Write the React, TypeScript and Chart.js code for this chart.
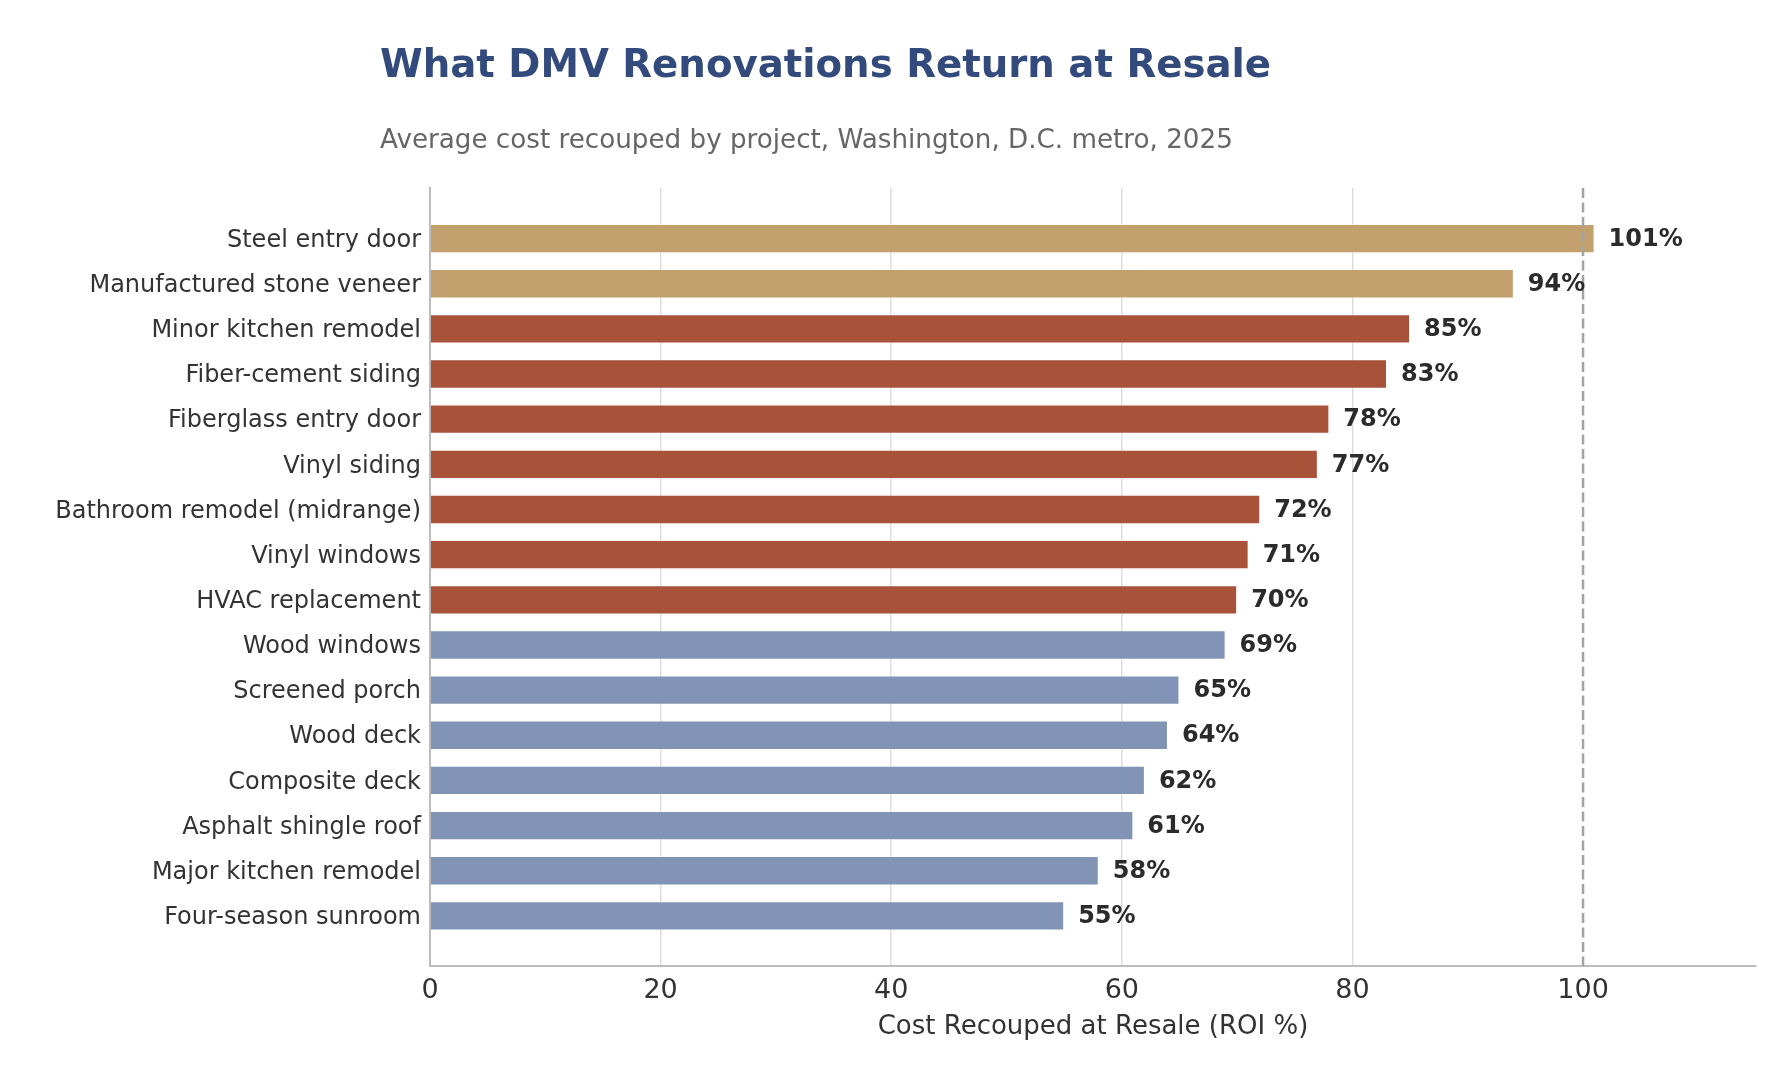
import React from "react";
import { Chart, ChartConfiguration, Plugin, registerables } from "chart.js";

Chart.register(...registerables);

const categories = [
  "Steel entry door",
  "Manufactured stone veneer",
  "Minor kitchen remodel",
  "Fiber-cement siding",
  "Fiberglass entry door",
  "Vinyl siding",
  "Bathroom remodel (midrange)",
  "Vinyl windows",
  "HVAC replacement",
  "Wood windows",
  "Screened porch",
  "Wood deck",
  "Composite deck",
  "Asphalt shingle roof",
  "Major kitchen remodel",
  "Four-season sunroom",
];

const roiValues = [101, 94, 85, 83, 78, 77, 72, 71, 70, 69, 65, 64, 62, 61, 58, 55];

const xTicks = [0, 20, 40, 60, 80, 100];
const breakEven = 100;

const TITLE = "What DMV Renovations Return at Resale";
const SUBTITLE = "Average cost recouped by project, Washington, D.C. metro, 2025";
const X_LABEL = "Cost Recouped at Resale (ROI %)";

const FONT = "'DejaVu Sans', sans-serif";
const TAN = "#C2A16E";
const RUST = "#A9523A";
const STEEL = "#8194B5";

const barColor = (v: number) => (v >= 90 ? TAN : v >= 70 ? RUST : STEEL);

const W = 1786;
const H = 1072;
const Y_MIN = -1.12;
const Y_MAX = 16.11;

const headerPlugin: Plugin<"bar"> = {
  id: "header",
  afterDraw(chart) {
    const { ctx } = chart;
    ctx.save();
    ctx.textAlign = "left";
    ctx.textBaseline = "alphabetic";
    ctx.fillStyle = "#334B7C";
    ctx.font = `bold 38.7px ${FONT}`;
    ctx.fillText(TITLE, 380, 77);
    ctx.fillStyle = "#666666";
    ctx.font = `26.2px ${FONT}`;
    ctx.fillText(SUBTITLE, 380, 148);
    ctx.restore();
  },
};

const refLinePlugin: Plugin<"bar"> = {
  id: "refLine",
  afterDatasetsDraw(chart) {
    const { ctx, chartArea, scales } = chart;
    const x = scales.x.getPixelForValue(breakEven);
    ctx.save();
    ctx.strokeStyle = "#a3a3a3";
    ctx.lineWidth = 2.5;
    ctx.setLineDash([10, 4.5]);
    ctx.beginPath();
    ctx.moveTo(x, chartArea.top);
    ctx.lineTo(x, chartArea.bottom);
    ctx.stroke();
    ctx.restore();
  },
};

const valueLabelPlugin: Plugin<"bar"> = {
  id: "valueLabels",
  afterDatasetsDraw(chart) {
    const { ctx } = chart;
    const meta = chart.getDatasetMeta(0);
    ctx.save();
    ctx.font = `bold 24px ${FONT}`;
    ctx.fillStyle = "#2b2b2b";
    ctx.textAlign = "left";
    ctx.textBaseline = "middle";
    meta.data.forEach((bar, i) => {
      const { x, y } = bar.getProps(["x", "y"], true);
      ctx.fillText(`${roiValues[i]}%`, x + 14, y + 1);
    });
    ctx.restore();
  },
};

export default function App() {
  const canvasRef = React.useRef<HTMLCanvasElement | null>(null);
  const chartRef = React.useRef<Chart<"bar"> | null>(null);

  React.useEffect(() => {
    const canvas = canvasRef.current;
    if (!canvas) return;
    chartRef.current?.destroy();

    const config: ChartConfiguration<"bar"> = {
      type: "bar",
      data: {
        datasets: [
          {
            data: roiValues.map((v, i) => ({ x: v, y: i })) as any,
            backgroundColor: roiValues.map(barColor),
            borderColor: "rgba(255,255,255,0.35)",
            borderWidth: 1,
            categoryPercentage: 1,
            barPercentage: 0.65,
          },
        ],
      },
      options: {
        indexAxis: "y",
        animation: false,
        responsive: false,
        devicePixelRatio: 1,
        layout: { padding: { top: 188, right: 30, bottom: 0, left: 0 } },
        plugins: {
          legend: { display: false },
          tooltip: { enabled: false },
          title: { display: false },
        },
        scales: {
          x: {
            type: "linear",
            position: "bottom",
            min: 0,
            max: 115,
            offset: false,
            afterBuildTicks: (s) => {
              s.ticks = xTicks.map((v) => ({ value: v }));
              s.min = 0;
              s.max = 115;
            },
            afterFit: (s) => {
              s.height = 106;
            },
            grid: {
              color: (c) => (c.tick && c.tick.value === breakEven ? "rgba(0,0,0,0)" : "#dddddd"),
              lineWidth: 1.5,
              drawTicks: false,
              offset: false,
            },
            border: { display: true, color: "#bdbdbd", width: 2 },
            ticks: {
              padding: 9,
              color: "#333333",
              font: { family: FONT, size: 27 },
              callback: (v) => String(v),
            },
            title: {
              display: true,
              text: X_LABEL,
              color: "#333333",
              font: { family: FONT, size: 26 },
              padding: { top: 0, bottom: 29 },
            },
          },
          y: {
            type: "linear",
            position: "left",
            reverse: true,
            offset: false,
            bounds: "data",
            min: Y_MIN,
            max: Y_MAX,
            afterBuildTicks: (s) => {
              s.ticks = categories.map((_, i) => ({ value: i }));
              s.min = Y_MIN;
              s.max = Y_MAX;
            },
            afterFit: (s) => {
              s.width = 430;
            },
            grid: { display: false, drawTicks: false, offset: false },
            border: { display: true, color: "#bdbdbd", width: 2 },
            ticks: {
              autoSkip: false,
              padding: 9,
              labelOffset: 2,
              color: "#333333",
              font: { family: FONT, size: 24 },
              callback: (v) => categories[Number(v)] ?? "",
            },
          },
        },
      },
      plugins: [headerPlugin, refLinePlugin, valueLabelPlugin],
    };

    chartRef.current = new Chart(canvas, config);
    return () => {
      chartRef.current?.destroy();
      chartRef.current = null;
    };
  }, []);

  return (
    <div
      style={{
        position: "fixed",
        left: 0,
        top: 0,
        width: W,
        height: H,
        background: "#ffffff",
      }}
    >
      <canvas ref={canvasRef} width={W} height={H} style={{ display: "block" }} />
    </div>
  );
}
